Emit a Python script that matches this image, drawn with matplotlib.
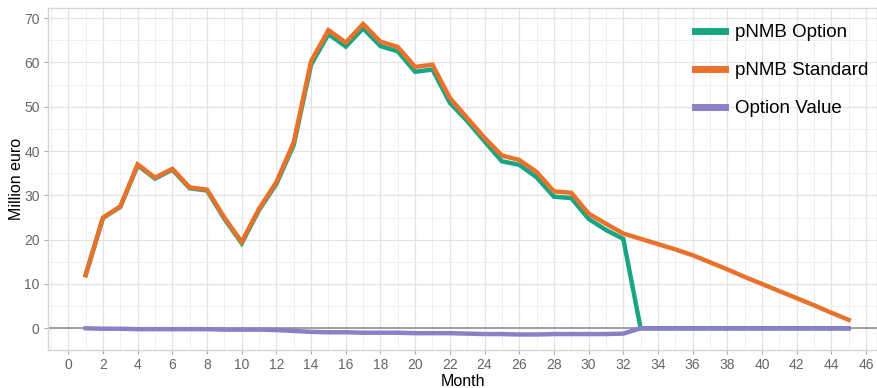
import matplotlib
matplotlib.use("Agg")
import matplotlib.pyplot as plt
from matplotlib.ticker import MultipleLocator

plt.rcParams['font.family'] = ['Liberation Sans', 'DejaVu Sans']

months = list(range(1, 46))

pnmb_standard = [12.0, 25.0, 27.5, 37.0, 34.0, 36.0, 31.8, 31.3, 25.0, 19.5,
                 27.0, 33.0, 42.0, 60.3, 67.3, 64.5, 68.7, 64.7, 63.5, 59.0,
                 59.5, 52.0, 47.5, 43.0, 39.0, 38.0, 35.3, 30.9, 30.6, 25.9,
                 23.6, 21.4, 20.2, 19.0, 17.8, 16.5, 14.9, 13.3, 11.6, 10.0,
                 8.4, 6.8, 5.2, 3.5, 1.9]

pnmb_option = [12.0, 24.9, 27.4, 36.8, 33.8, 35.8, 31.6, 31.1, 24.7, 19.2,
               26.7, 32.6, 41.4, 59.5, 66.4, 63.6, 67.7, 63.7, 62.5, 57.9,
               58.4, 50.9, 46.8, 42.2, 37.7, 36.9, 34.1, 29.7, 29.4, 24.7,
               22.2, 20.2, 0.0, 0.0, 0.0, 0.0, 0.0, 0.0, 0.0, 0.0,
               0.0, 0.0, 0.0, 0.0, 0.0]

option_value = [0.0, -0.1, -0.1, -0.2, -0.2, -0.2, -0.2, -0.2, -0.3, -0.3,
                -0.3, -0.4, -0.6, -0.8, -0.9, -0.9, -1.0, -1.0, -1.0, -1.1,
                -1.1, -1.1, -1.2, -1.3, -1.3, -1.4, -1.4, -1.3, -1.3, -1.3,
                -1.3, -1.2, 0.0, 0.0, 0.0, 0.0, 0.0, 0.0, 0.0, 0.0,
                0.0, 0.0, 0.0, 0.0, 0.0]

series_labels = ["pNMB Option", "pNMB Standard", "Option Value"]
series_colors = ["#17a584", "#e8722c", "#8a80c6"]

fig = plt.figure(figsize=(8.77, 3.88), dpi=100)
ax = fig.add_axes([48 / 877, 1 - 350 / 388, 829 / 877, 342 / 388])

ax.set_xlim(-1.17, 46.63)
ax.set_ylim(-4.9, 72.3)

ax.xaxis.set_major_locator(MultipleLocator(2))
ax.xaxis.set_minor_locator(MultipleLocator(1))
ax.yaxis.set_major_locator(MultipleLocator(10))
ax.yaxis.set_minor_locator(MultipleLocator(5))

ax.grid(which="major", color="#e3e3e3", lw=0.9, zorder=0)
ax.grid(which="minor", color="#efefef", lw=0.7, zorder=0)
ax.set_axisbelow(True)

for side in ["left", "top", "bottom", "right"]:
    ax.spines[side].set_color("#d6d6d6")
    ax.spines[side].set_linewidth(1.0)

ax.tick_params(which="major", length=3, color="#aaaaaa", labelcolor="#666666",
               labelsize=10, pad=3)
ax.tick_params(which="minor", length=0)

ax.axhline(0, color="#a0a0a0", lw=1.4, zorder=1)

ax.plot(months, pnmb_option, color=series_colors[0], lw=3.2,
        label=series_labels[0], zorder=3, solid_joinstyle="miter")
ax.plot(months, pnmb_standard, color=series_colors[1], lw=3.2,
        label=series_labels[1], zorder=4, solid_joinstyle="miter")
ax.plot(months, option_value, color=series_colors[2], lw=3.2,
        label=series_labels[2], zorder=5, solid_joinstyle="miter")

ax.set_xlabel("Month", fontsize=11.5, color="black", labelpad=1)
ax.set_ylabel("Million euro", fontsize=11.5, color="black", labelpad=0)

leg = ax.legend(loc="upper left", bbox_to_anchor=(0.772, 0.975), frameon=False,
                fontsize=13.5, handlelength=1.6, handletextpad=0.5,
                labelspacing=1.12, borderaxespad=0)
for line in leg.get_lines():
    line.set_linewidth(5)

fig.savefig("out.png", dpi=100)
